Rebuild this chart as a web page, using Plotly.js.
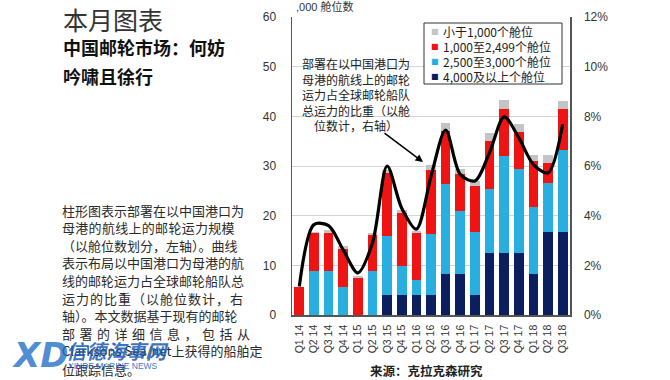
<!DOCTYPE html>
<html>
<head>
<meta charset="utf-8">
<script src="https://cdn.plot.ly/plotly-3.0.1.min.js"></script>
<style>
html,body{margin:0;padding:0;background:#fff;}
#chart{width:670px;height:380px;}
</style>
</head>
<body>
<div id="chart"></div>
<script>
// ---- data ----
var quarters = ['Q1 14','Q2 14','Q3 14','Q4 14','Q1 15','Q2 15','Q3 15','Q4 15','Q1 16','Q2 16','Q3 16','Q4 16','Q1 17','Q2 17','Q3 17','Q4 17','Q1 18','Q2 18','Q3 18'];
// thousand berths by ship size
var berths4000plus = [0,0,0,0,0,0,4.0,4.0,4.0,4.0,8.2,8.2,4.0,12.5,12.5,12.5,8.2,16.8,16.8];
var berths2500to3000 = [0,8.8,8.8,5.7,0,8.8,12.0,5.8,3.1,12.4,18.2,12.7,12.7,12.9,19.6,16.9,13.6,9.8,16.5];
var berths1000to2499 = [5.6,7.7,7.8,7.6,7.4,7.4,12.6,10.7,9.4,12.8,10.6,7.4,9.2,9.6,9.4,7.4,9.2,4.0,8.1];
var berthsUnder1000 = [0,0.3,0.5,0.5,0.5,0.4,0.5,0.6,0.5,1.0,1.7,1.0,1.0,1.7,1.8,1.7,1.3,1.7,1.7];
// share of global cruise fleet capacity (%)
var chinaShare = [1.15,3.64,3.6,2.62,1.7,2.9,6.0,4.3,3.46,5.58,7.45,5.66,5.4,6.54,7.98,7.14,6.06,5.72,7.68];

var seriesNames = ['4,000及以上个舱位','2,500至3,000个舱位','1,000至2,499个舱位','小于1,000个舱位'];
var leftTicks = [0,10,20,30,40,50,60];
var rightTicks = [0,2,4,6,8,10,12];
var rightTickText = ['0%','2%','4%','6%','8%','10%','12%'];

var pageTitle = '本月图表';
var subTitle = ['中国邮轮市场：何妨','吟啸且徐行'];
var bodyLines = [
  '柱形图表示部署在以中国港口为',
  '母港的航线上的邮轮运力规模',
  '（以舱位数划分，左轴）。曲线',
  '表示布局以中国港口为母港的航',
  '线的邮轮运力占全球邮轮船队总',
  '运力的比重（以舱位数计，右',
  '轴）。本文数据基于现有的邮轮',
  '部署的详细信息，包括从',
  'Clarksons Sea/net上获得的船舶定',
  '位跟踪信息。'
];
var bodySpacing = [0,0.3,0,0,0,1,0,4.5,0,0];
var lineNote = '部署在以中国港口为<br>母港的航线上的邮轮<br>运力占全球邮轮船队<br>总运力的比重（以舱<br>位数计，右轴）';
var yTitle = ',000 舱位数';
var sourceText = '来源：克拉克森研究';

// ---- chart ----
var FONT = 'Liberation Sans, Arial, Noto Sans CJK SC, sans-serif';
var CJK = 'Noto Sans CJK SC, sans-serif';
var colors = ['#0b1f5e','#29aee0','#ef1414','#c4c4c4'];
var stacks = [berths4000plus, berths2500to3000, berths1000to2499, berthsUnder1000];

var traces = stacks.map(function(v,i){
  return {type:'bar', x:quarters, y:v, name:seriesNames[i], marker:{color:colors[i]}, yaxis:'y', showlegend:false};
});
traces.push({type:'scatter', mode:'lines', x:quarters, y:chinaShare, yaxis:'y2', showlegend:false,
  line:{color:'#000', width:3.2, shape:'spline', smoothing:0.85}});

// pixel -> paper helpers (plot area 292..570 x, 17..315 y)
var L=292, R=570, T=17, B=315;
function px(x){return (x-L)/(R-L);}
function py(y){return (B-y)/(B-T);}

var ann = [];
var shapes = [];
ann.push({xref:'paper',yref:'paper',x:px(61),y:py(19),xanchor:'left',yanchor:'middle',showarrow:false,
  text:pageTitle,font:{family:CJK,size:25,color:'#333'}});
var subY=[47,76];
subTitle.forEach(function(t,i){
  ann.push({xref:'paper',yref:'paper',x:px(61),y:py(subY[i]),xanchor:'left',yanchor:'middle',showarrow:false,
    text:'<b>'+t+'</b>',font:{family:CJK,size:18,color:'#111'}});
});
var bodyY=[210,227.6,245.2,262.8,280.4,298,315.6,333.2,350.8,369];
bodyLines.forEach(function(t,i){
  var s = bodySpacing[i] ? '<span style="letter-spacing:'+bodySpacing[i]+'px">'+t+'</span>' : t;
  ann.push({xref:'paper',yref:'paper',x:px(60),y:py(bodyY[i]),xanchor:'left',yanchor:'middle',showarrow:false,
    text:s,font:{family:CJK,size:13,color:'#2a2a2a'}});
});
// watermark
ann.push({xref:'paper',yref:'paper',x:px(10),y:py(355),xanchor:'left',yanchor:'middle',showarrow:false,
  text:'<b><i>XD</i></b>',font:{family:'DejaVu Sans, sans-serif',size:34,color:'rgba(30,110,200,0.8)'}});
ann.push({xref:'paper',yref:'paper',x:px(64),y:py(350),xanchor:'left',yanchor:'middle',showarrow:false,
  text:'<b><i>信德海事网</i></b>',font:{family:CJK,size:20,color:'rgba(25,90,180,0.85)'}});
ann.push({xref:'paper',yref:'paper',x:px(66),y:py(366),xanchor:'left',yanchor:'middle',showarrow:false,
  text:'XINDE MARINE NEWS',font:{family:'Liberation Sans, sans-serif',size:8.5,color:'rgba(30,100,200,0.9)'}});
// y title
ann.push({xref:'paper',yref:'paper',x:px(294),y:py(7),xanchor:'left',yanchor:'middle',showarrow:false,
  text:yTitle,font:{family:FONT,size:11,color:'#333'}});
// line note
ann.push({xref:'paper',yref:'paper',x:px(356),y:py(53),xanchor:'center',yanchor:'top',align:'center',showarrow:false,
  text:lineNote,font:{family:CJK,size:12,color:'#222'}});
// arrow
ann.push({xref:'paper',yref:'paper',x:px(423),y:py(162),axref:'pixel',ayref:'pixel',ax:-40,ay:-30,
  text:'',showarrow:true,arrowhead:2,arrowsize:1,arrowwidth:1.5,arrowcolor:'#000',standoff:0});
// source
ann.push({xref:'paper',yref:'paper',x:px(426),y:py(370),xanchor:'center',yanchor:'middle',showarrow:false,
  text:'<b>'+sourceText+'</b>',font:{family:CJK,size:12.5,color:'#222'}});

// legend (box + colored squares + labels)
shapes.push({type:'rect',xref:'paper',yref:'paper',x0:px(424),x1:px(562),y0:py(84),y1:py(23),
  line:{color:'#333',width:1},fillcolor:'#fff',layer:'above'});
var legY=[31.5,46.5,61.5,76.5];
for (var k=0;k<4;k++){
  var idx = 3-k;
  ann.push({xref:'paper',yref:'paper',x:px(430),y:py(legY[k]),xanchor:'left',yanchor:'middle',showarrow:false,
    text:'■',borderpad:0,font:{family:'DejaVu Sans, sans-serif',size:8,color:colors[idx]}});
  ann.push({xref:'paper',yref:'paper',x:px(442),y:py(legY[k]),xanchor:'left',yanchor:'middle',showarrow:false,
    text:seriesNames[idx],borderpad:0,font:{family:CJK,size:12,color:'#222'}});
}

var layout = {
  width:670, height:380,
  margin:{l:L, r:670-R, t:T, b:380-B, pad:0},
  paper_bgcolor:'#fff', plot_bgcolor:'#fff',
  barmode:'stack', bargap:0.34,
  font:{family:FONT, size:12, color:'#333'},
  showlegend:false,
  xaxis:{type:'category', showline:true, linecolor:'#555', linewidth:1.5, ticks:'', tickangle:-90,
    tickfont:{family:FONT,size:10.5,color:'#333'}, showgrid:false, fixedrange:true, mirror:false,
    ticklabelstandoff:4},
  yaxis:{range:[0,60], tickvals:leftTicks, showline:true, linecolor:'#555', linewidth:1.5,
    gridcolor:'#d4d4d4', gridwidth:1, ticks:'', tickfont:{family:FONT,size:12,color:'#333'},
    zeroline:false, ticklabelstandoff:12},
  yaxis2:{range:[0,12], tickvals:rightTicks, ticktext:rightTickText, overlaying:'y', side:'right',
    showline:true, linecolor:'#555', linewidth:1.5, showgrid:false, ticks:'', zeroline:false,
    tickfont:{family:FONT,size:12,color:'#333'}, ticklabelstandoff:10},
  shapes:shapes,
  annotations:ann
};

Plotly.newPlot('chart', traces, layout, {staticPlot:true, displayModeBar:false});
</script>
</body>
</html>
